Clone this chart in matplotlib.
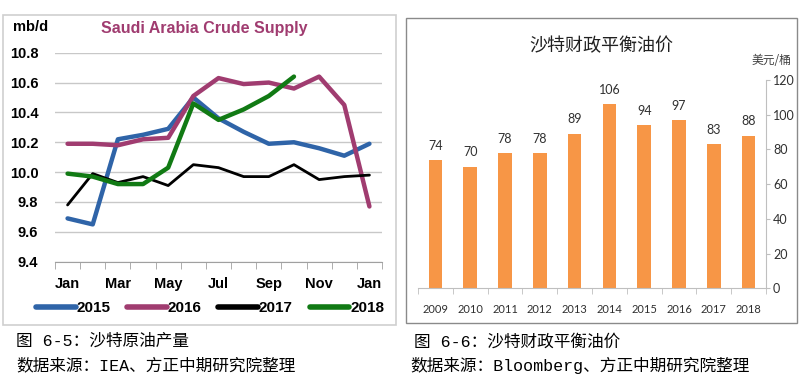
import matplotlib
matplotlib.use("Agg")
import matplotlib.pyplot as plt
from matplotlib.patches import Rectangle

# ---------------- data ----------------
months = ["Jan", "Feb", "Mar", "Apr", "May", "Jun", "Jul", "Aug", "Sep", "Oct", "Nov", "Dec", "Jan"]
month_labels = ["Jan", "Mar", "May", "Jul", "Sep", "Nov", "Jan"]
y2015 = [9.69, 9.65, 10.22, 10.25, 10.29, 10.50, 10.36, 10.27, 10.19, 10.20, 10.16, 10.11, 10.19]
y2016 = [10.19, 10.19, 10.18, 10.22, 10.23, 10.51, 10.63, 10.59, 10.60, 10.56, 10.64, 10.45, 9.77]
y2017 = [9.78, 9.99, 9.93, 9.97, 9.91, 10.05, 10.03, 9.97, 9.97, 10.05, 9.95, 9.97, 9.98]
y2018 = [9.99, 9.97, 9.92, 9.92, 10.03, 10.46, 10.35, 10.42, 10.51, 10.64]
series_names = ["2015", "2016", "2017", "2018"]

years = ["2009", "2010", "2011", "2012", "2013", "2014", "2015", "2016", "2017", "2018"]
breakeven = [74, 70, 78, 78, 89, 106, 94, 97, 83, 88]

W, H = 807, 385
fig = plt.figure(figsize=(W / 100, H / 100), dpi=100)
fig.patch.set_facecolor("white")


def fx(px):
    return px / W


def fy(py):
    return 1 - py / H


# panel borders
fig.patches.append(Rectangle((fx(3), fy(325)), fx(396) - fx(3), fy(15) - fy(325),
                             transform=fig.transFigure, fill=False, ec="#cfcfcf", lw=1.2))
fig.patches.append(Rectangle((fx(406), fy(323)), fx(797) - fx(406), fy(18) - fy(323),
                             transform=fig.transFigure, fill=False, ec="#8a8a8a", lw=1.0))

# ---------------- left chart ----------------
axl = fig.add_axes([fx(55), fy(261.7), fx(382) - fx(55), (261.7 - 52.7) / H])
x = list(range(len(months)))
colors = {"2015": "#2f64a8", "2016": "#a03c70", "2017": "#000000", "2018": "#117a14"}
axl.plot(x, y2015, color=colors["2015"], lw=3.2, solid_capstyle="round", label=series_names[0])
axl.plot(x, y2016, color=colors["2016"], lw=3.2, solid_capstyle="round", label=series_names[1])
axl.plot(x, y2017, color=colors["2017"], lw=2.0, solid_capstyle="round", label=series_names[2])
axl.plot(list(range(len(y2018))), y2018, color=colors["2018"], lw=3.2, solid_capstyle="round",
         label=series_names[3])

axl.set_ylim(9.4, 10.8)
axl.set_xlim(-0.5, len(months) - 0.5)
axl.set_yticks([9.4, 9.6, 9.8, 10.0, 10.2, 10.4, 10.6, 10.8])
axl.set_yticklabels(["9.4", "9.6", "9.8", "10.0", "10.2", "10.4", "10.6", "10.8"],
                    fontsize=10.5, fontweight="bold", family="Liberation Sans")
axl.grid(axis="y", color="#c8c8c8", lw=1.0)
axl.set_axisbelow(True)
axl.set_xticks(x[::2])
axl.set_xticklabels(month_labels, fontsize=10.5, fontweight="bold", family="Liberation Sans")
axl.set_xticks([i - 0.5 for i in range(len(months) + 1)], minor=True)
axl.tick_params(axis="x", which="major", length=0, pad=11)
axl.tick_params(axis="x", which="minor", length=5, color="#a0a0a0", direction="out")
axl.tick_params(axis="y", length=0, pad=12)
for s in ["top", "right", "left"]:
    axl.spines[s].set_visible(False)
axl.spines["bottom"].set_color("#a0a0a0")

fig.text(fx(13), fy(27), "mb/d", fontsize=10.5, fontweight="bold", family="Liberation Sans",
         va="center", ha="left")
fig.text(fx(204), fy(28), "Saudi Arabia Crude Supply", fontsize=11.5, fontweight="bold",
         family="Liberation Sans", color="#a03c70", va="center", ha="center")

leg = axl.legend(loc="center", bbox_to_anchor=(fx(210), fy(308)), bbox_transform=fig.transFigure,
                 ncol=4, frameon=False, handlelength=2.6, handletextpad=0.05, columnspacing=1.1,
                 borderpad=0.0, borderaxespad=0.0,
                 prop={"family": "Liberation Sans", "weight": "bold", "size": 11})
for h in leg.get_lines():
    h.set_linewidth(4.0)

# ---------------- right chart ----------------
axr = fig.add_axes([fx(418), fy(288.3), fx(766) - fx(418), 208.3 / H])
xr = list(range(len(years)))
bars = axr.bar(xr, breakeven, width=0.39, color="#f79646")
for xi, v in zip(xr, breakeven):
    axr.annotate(str(v), (xi, v), xytext=(0, 6), textcoords="offset points",
                 ha="center", va="bottom", fontsize=9, family="Lato", color="#303030")
axr.set_xlim(-0.5, len(years) - 0.5)
axr.set_ylim(0, 120)
axr.yaxis.tick_right()
axr.set_yticks([0, 20, 40, 60, 80, 100, 120])
axr.set_yticklabels(["0", "20", "40", "60", "80", "100", "120"], fontsize=9, family="Lato",
                    color="#303030")
axr.tick_params(axis="y", length=3, color="#bfbfbf", pad=2)
axr.set_xticks(xr)
axr.set_xticklabels(years, fontsize=8, family="Lato", color="#303030")
axr.set_xticks([i - 0.5 for i in range(len(years) + 1)], minor=True)
axr.tick_params(axis="x", which="major", length=0, pad=11)
axr.tick_params(axis="x", which="minor", length=4, color="#bfbfbf", direction="out")
for s in ["top", "left"]:
    axr.spines[s].set_visible(False)
axr.spines["right"].set_color("#bfbfbf")
axr.spines["bottom"].set_color("#bfbfbf")

fig.text(fx(601), fy(46), "沙特财政平衡油价", fontsize=13, family="Noto Sans CJK SC",
         ha="center", va="center", color="#202020")
fig.text(fx(771), fy(60), "美元/桶", fontsize=8.5, family="Noto Sans CJK SC",
         ha="center", va="center", color="#404040")

# ---------------- captions ----------------
cap_font = ["Liberation Mono", "Noto Sans CJK SC"]
fig.text(fx(16), fy(341), "图 6-5：沙特原油产量", fontsize=12, family=cap_font, va="center", ha="left")
fig.text(fx(16), fy(365), "数据来源：IEA、方正中期研究院整理", fontsize=12, family=cap_font,
         va="center", ha="left")
fig.text(fx(414), fy(342), "图 6-6：沙特财政平衡油价", fontsize=12, family=cap_font, va="center", ha="left")
fig.text(fx(410), fy(365), "数据来源：Bloomberg、方正中期研究院整理", fontsize=12, family=cap_font,
         va="center", ha="left")

fig.savefig("out.png", dpi=100, facecolor="white")
